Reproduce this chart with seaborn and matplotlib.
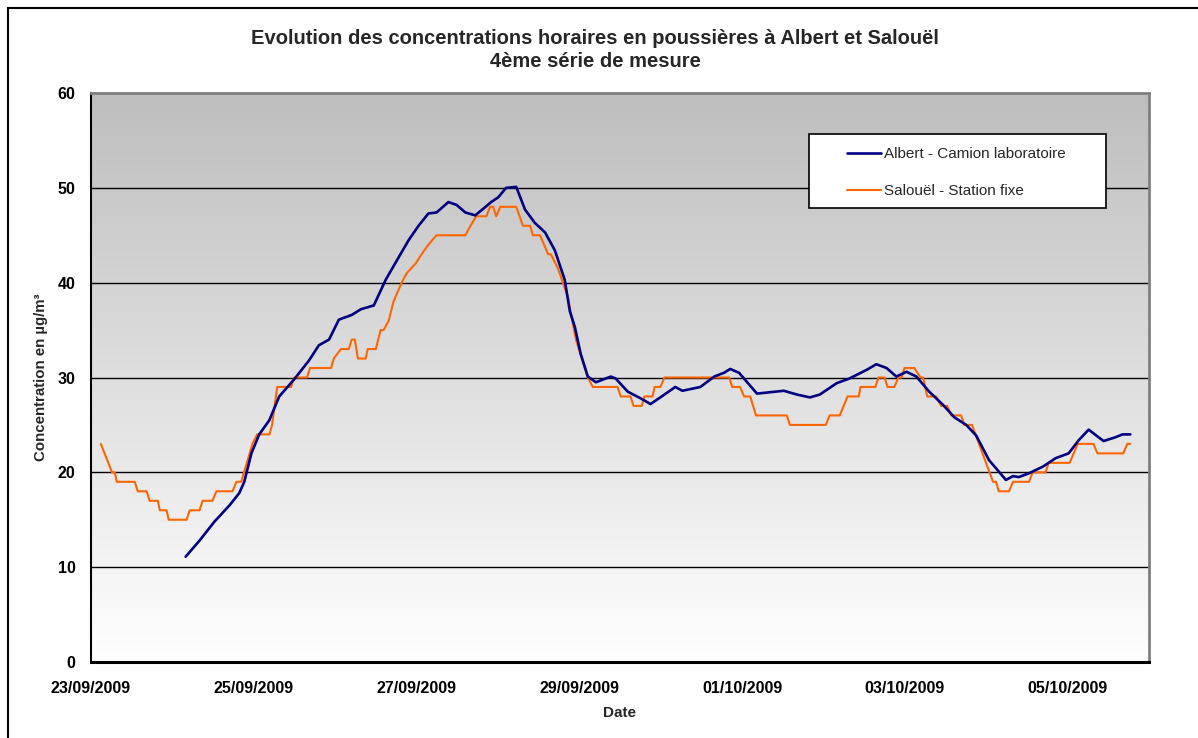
#!/usr/bin/env python3

import numpy as np
import pandas as pd
import matplotlib
matplotlib.use('Agg')
import matplotlib.pyplot as plt
import matplotlib.dates as mdates
from matplotlib.colors import LinearSegmentedColormap
from matplotlib.patches import Rectangle
import seaborn as sns

START = pd.Timestamp('2009-09-23 00:00')

# Albert - Camion laboratoire (hours after 23/09/2009 00:00, µg/m3)
albert_hours = [27.9, 32.0, 36.4, 40.8, 43.7, 45.2, 47.3, 49.6, 52.6, 55.5,
                59.9, 64.3, 67.2, 70.2, 73.1, 76.9, 79.6, 83.4, 86.9, 89.8,
                93.7, 96.6, 99.5, 101.9, 105.4, 107.8, 110.4, 113.3, 115.7, 118.0,
                120.1, 122.4, 125.4, 128.0, 130.9, 133.9, 136.8, 139.7, 141.2, 142.7,
                144.4, 146.5, 148.9, 153.3, 154.7, 158.3, 162.1, 165.0, 169.1, 172.3,
                174.4, 179.7, 183.8, 186.7, 188.5, 191.1, 196.4, 204.3, 208.2, 212.0,
                214.9, 219.9, 223.7, 228.7, 231.6, 234.6, 237.5, 240.5, 243.4, 247.2,
                251.3, 254.6, 258.1, 261.0, 264.8, 269.8, 271.9, 273.6, 276.6, 280.7,
                284.5, 288.3, 291.3, 294.2, 298.6, 302.1, 304.2, 306.5]
albert_vals = [11.1, 12.8, 14.8, 16.5, 17.8, 19.0, 22.0, 24.0, 25.5, 28.0,
               29.8, 31.8, 33.4, 34.0, 36.1, 36.6, 37.2, 37.6, 40.3, 42.1,
               44.5, 46.0, 47.3, 47.4, 48.5, 48.2, 47.4, 47.1, 47.8, 48.5,
               49.0, 50.0, 50.1, 47.7, 46.3, 45.3, 43.4, 40.3, 37.0, 35.3,
               32.5, 30.1, 29.5, 30.1, 29.9, 28.5, 27.8, 27.2, 28.2, 29.0,
               28.6, 29.0, 30.1, 30.5, 30.9, 30.5, 28.3, 28.6, 28.2, 27.9,
               28.2, 29.4, 29.9, 30.8, 31.4, 31.0, 30.1, 30.6, 30.1, 28.5,
               27.1, 25.8, 25.0, 23.9, 21.3, 19.2, 19.6, 19.5, 19.9, 20.6,
               21.5, 22.0, 23.4, 24.5, 23.3, 23.7, 24.0, 24.0]

# Salouël - Station fixe
salouel_hours = [2.9, 6.2, 7.0, 7.6, 12.9, 13.8, 16.4, 17.3, 19.7, 20.3,
                 22.3, 22.9, 28.2, 29.1, 32.0, 32.9, 35.8, 37.0, 41.7, 42.9,
                 44.3, 47.6, 49.0, 52.6, 53.4, 54.9, 59.0, 59.9, 63.7, 64.6,
                 70.8, 71.6, 73.7, 76.0, 76.9, 77.8, 78.7, 81.0, 81.6, 84.0,
                 85.4, 86.3, 87.8, 89.2, 91.6, 93.1, 95.7, 97.5, 99.5, 101.9,
                 110.4, 111.9, 113.6, 116.6, 117.7, 118.6, 119.5, 120.7, 125.4, 127.4,
                 129.5, 130.3, 132.4, 134.8, 135.6, 137.7, 140.6, 143.0, 145.6, 146.5,
                 148.0, 155.3, 156.2, 159.1, 160.0, 162.4, 163.2, 165.6, 166.2, 167.9,
                 169.1, 188.2, 189.1, 191.4, 192.6, 194.4, 196.1, 205.2, 206.1, 216.7,
                 217.8, 220.8, 223.1, 226.4, 226.9, 231.3, 232.2, 234.0, 234.9, 236.9,
                 238.1, 239.0, 239.9, 242.8, 244.6, 245.4, 246.6, 249.2, 250.7, 252.5,
                 253.7, 256.6, 257.5, 259.8, 266.0, 266.9, 267.7, 270.7, 271.9, 276.6,
                 277.7, 281.5, 282.4, 288.6, 289.8, 290.9, 295.6, 296.8, 304.4, 305.6,
                 306.5]
salouel_vals = [23, 20, 20, 19, 19, 18, 18, 17, 17, 16,
                16, 15, 15, 16, 16, 17, 17, 18, 18, 19,
                19, 23, 24, 24, 25, 29, 29, 30, 30, 31,
                31, 32, 33, 33, 34, 34, 32, 32, 33, 33,
                35, 35, 36, 38, 40, 41, 42, 43, 44, 45,
                45, 46, 47, 47, 48, 48, 47, 48, 48, 46,
                46, 45, 45, 43, 43, 41.5, 38.5, 34, 31, 30,
                29, 29, 28, 28, 27, 27, 28, 28, 29, 29,
                30, 30, 29, 29, 28, 28, 26, 26, 25, 25,
                26, 26, 28, 28, 29, 29, 30, 30, 29, 29,
                30, 30, 31, 31, 30, 30, 28, 28, 27, 27,
                26, 26, 25, 25, 19, 19, 18, 18, 19, 19,
                20, 20, 21, 21, 22, 23, 23, 22, 22, 23,
                23]

tick_dates = ['2009-09-23', '2009-09-25', '2009-09-27', '2009-09-29',
              '2009-10-01', '2009-10-03', '2009-10-05']

TITLE = 'Evolution des concentrations horaires en poussières à Albert et Salouël\n4ème série de mesure'
LABEL_A = 'Albert - Camion laboratoire'
LABEL_S = 'Salouël - Station fixe'

df_a = pd.DataFrame({'date': START + pd.to_timedelta(albert_hours, unit='h'),
                     'conc': albert_vals})
df_s = pd.DataFrame({'date': START + pd.to_timedelta(salouel_hours, unit='h'),
                     'conc': salouel_vals})

sns.set_style('white')
plt.rcParams['font.family'] = ['Liberation Sans', 'DejaVu Sans']

W, H = 1198, 738
fig = plt.figure(figsize=(W / 100, H / 100), dpi=100)
ax = fig.add_axes([91 / W, 1 - 662 / H, (1149 - 91) / W, (662 - 93) / H])

# grey-to-white gradient background
cmap = LinearSegmentedColormap.from_list('bg', ['#FFFFFF', '#BEBEBE'])
ax.imshow(np.linspace(0, 1, 256)[:, None], extent=[0, 1, 0, 1], origin='lower',
          transform=ax.transAxes, aspect='auto', cmap=cmap, zorder=0)

for y in [10, 20, 30, 40, 50]:
    ax.axhline(y, color='black', lw=1.0, zorder=1)

sns.lineplot(data=df_s, x='date', y='conc', ax=ax, color='#FF6600', lw=1.5,
             label=LABEL_S, zorder=3)
sns.lineplot(data=df_a, x='date', y='conc', ax=ax, color='#000080', lw=1.9,
             label=LABEL_A, zorder=4)

ax.set_xlim(pd.Timestamp('2009-09-23'), pd.Timestamp('2009-10-06'))
ax.set_ylim(0, 60)
ax.set_yticks(range(0, 61, 10))
ax.set_xticks(pd.to_datetime(tick_dates))
ax.xaxis.set_major_formatter(mdates.DateFormatter('%d/%m/%Y'))

ax.tick_params(axis='both', direction='out', length=6, width=1.2, colors='black',
               labelsize=11.5)
ax.tick_params(axis='x', pad=8)
ax.tick_params(axis='y', pad=5)
for lbl in ax.get_xticklabels() + ax.get_yticklabels():
    lbl.set_fontweight('bold')

ax.set_xlabel('Date', fontsize=11, fontweight='bold', labelpad=7)
ax.set_ylabel('Concentration en µg/m³', fontsize=10.8, fontweight='bold', labelpad=7)

for side in ['left', 'bottom']:
    ax.spines[side].set_color('black')
    ax.spines[side].set_linewidth(1.5)
ax.spines['bottom'].set_linewidth(2.2)
for side in ['top', 'right']:
    ax.spines[side].set_color('#808080')
    ax.spines[side].set_linewidth(2)

fig.text(0.497, 1 - 50 / H, TITLE, ha='center', va='center', fontsize=14.5,
         fontweight='bold', linespacing=1.25)

# legend box
handles, labels = ax.get_legend_handles_labels()
order = [labels.index(LABEL_A), labels.index(LABEL_S)]
fig.patches.append(Rectangle((809 / W, 1 - 208 / H), (1106 - 809) / W, (208 - 134) / H,
                             transform=fig.transFigure, facecolor='white',
                             edgecolor='black', lw=1.2, zorder=5))
leg = fig.legend([handles[i] for i in order], [labels[i] for i in order],
                 loc='upper left', bbox_to_anchor=(847 / W, 1 - 147 / H),
                 frameon=False, fontsize=11, handlelength=2.2, handletextpad=0.25,
                 labelspacing=1.5, borderpad=0, borderaxespad=0)
leg.set_zorder(6)
ax.get_legend().remove()

# outer chart frame
fig.patches.append(Rectangle((8 / W, -0.05), 1.1, 1 - 8 / H + 0.05,
                             transform=fig.transFigure, fill=False,
                             edgecolor='black', lw=1.5))

fig.savefig('out.png', dpi=100)
